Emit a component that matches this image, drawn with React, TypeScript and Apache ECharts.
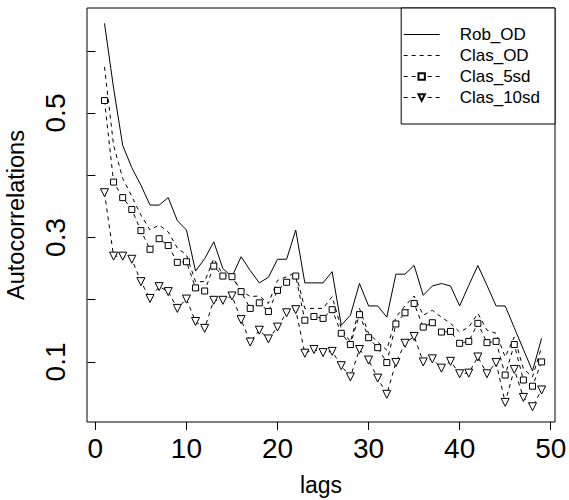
import React, { useEffect, useRef } from "react";
import * as echarts from "echarts";

const lags = [1,2,3,4,5,6,7,8,9,10,11,12,13,14,15,16,17,18,19,20,21,22,23,24,25,26,27,28,29,30,31,32,33,34,35,36,37,38,39,40,41,42,43,44,45,46,47,48,49];

const robOD = [0.644,0.54,0.448,0.412,0.384,0.352,0.352,0.364,0.327,0.312,
  0.246,0.266,0.293,0.250,0.237,0.269,0.247,0.227,0.236,0.265,
  0.265,0.312,0.227,0.227,0.227,0.245,0.159,0.175,0.226,0.190,
  0.190,0.172,0.241,0.241,0.255,0.207,0.222,0.226,0.222,0.190,
  0.223,0.255,0.223,0.190,0.190,0.155,0.120,0.0855,0.138];

const clasOD = [0.574,0.448,0.395,0.366,0.336,0.312,0.320,0.309,0.283,0.272,
  0.229,0.229,0.266,0.240,0.237,0.215,0.205,0.206,0.194,0.231,
  0.237,0.243,0.186,0.186,0.186,0.205,0.154,0.132,0.186,0.146,
  0.132,0.119,0.172,0.190,0.206,0.175,0.183,0.172,0.162,0.148,
  0.156,0.178,0.151,0.146,0.108,0.140,0.089,0.076,0.124];

const clas5sd = [0.520,0.389,0.364,0.345,0.311,0.281,0.298,0.287,0.260,0.261,
  0.219,0.214,0.254,0.238,0.237,0.213,0.186,0.195,0.181,0.215,
  0.228,0.238,0.167,0.173,0.170,0.184,0.146,0.128,0.176,0.139,
  0.123,0.099,0.161,0.179,0.194,0.156,0.163,0.148,0.149,0.130,
  0.133,0.162,0.131,0.133,0.079,0.128,0.071,0.061,0.100];

const clas10sd = [0.372,0.270,0.270,0.265,0.229,0.202,0.221,0.213,0.186,0.201,
  0.165,0.154,0.199,0.199,0.206,0.168,0.132,0.151,0.137,0.156,
  0.179,0.184,0.114,0.120,0.115,0.117,0.094,0.076,0.120,0.103,
  0.074,0.048,0.099,0.130,0.141,0.100,0.105,0.090,0.101,0.081,
  0.082,0.108,0.081,0.099,0.035,0.088,0.043,0.028,0.055];

const xTicks = [0, 10, 20, 30, 40, 50];
const yTicks = [0.1, 0.2, 0.3, 0.4, 0.5, 0.6];
const yLabels = [0.1, 0.3, 0.5];

const FONT = "'Liberation Sans', Arial, Helvetica, sans-serif";

export default function App() {
  const ref = useRef<HTMLDivElement>(null);
  useEffect(() => {
    document.body.style.margin = "0";
    const chart = echarts.init(ref.current!, null, { renderer: "svg" });
    const pairs = (vals: number[]) => lags.map((l, i) => [l, vals[i]]);
    const dashed = [4, 4];
    chart.setOption({
      animation: false,
      backgroundColor: "#fff",
      textStyle: { fontFamily: FONT, color: "#000" },
      grid: {
        left: 87, top: 8, width: 468, height: 414,
        containLabel: false, outerBoundsMode: "none",
        show: true, borderColor: "#000", borderWidth: 1, backgroundColor: "#fff",
      },
      legend: {
        orient: "vertical", right: 14, top: 8,
        padding: [18, 15, 18, 2],
        itemWidth: 36, itemHeight: 8, itemGap: 4,
        borderColor: "#000", borderWidth: 1, borderRadius: 0, backgroundColor: "#fff",
        lineStyle: { width: 1 },
        textStyle: { fontSize: 17, color: "#000", fontFamily: FONT, padding: [0, 0, 0, 15] },
        data: [
          { name: "Rob_OD", itemStyle: { opacity: 0 } },
          { name: "Clas_OD", itemStyle: { opacity: 0 } },
          { name: "Clas_5sd" },
          { name: "Clas_10sd", symbolRotate: 180 },
        ],
      },
      xAxis: {
        type: "value", min: -0.92, max: 50.47,
        splitLine: { show: false },
        axisLine: { show: false },
        axisTick: { show: true, length: 8, customValues: xTicks, lineStyle: { color: "#000", width: 1 } },
        axisLabel: { customValues: xTicks, fontSize: 28, color: "#000", margin: 12, fontFamily: FONT },
        name: "lags", nameLocation: "middle", nameGap: 51,
        nameTextStyle: { fontSize: 23, color: "#000", fontFamily: FONT },
      },
      yAxis: {
        type: "value", min: 0.0035, max: 0.6687,
        splitLine: { show: false },
        axisLine: { show: false },
        axisTick: { show: true, length: 8, customValues: yTicks, lineStyle: { color: "#000", width: 1 } },
        axisLabel: {
          customValues: yLabels, rotate: 90, fontSize: 28, color: "#000", margin: 18, fontFamily: FONT,
          formatter: (v: number) => v.toFixed(1),
        },
        name: "Autocorrelations", nameLocation: "middle", nameGap: 59,
        nameTextStyle: { fontSize: 23.5, color: "#000", fontFamily: FONT },
      },
      series: [
        {
          name: "Rob_OD", type: "line", data: pairs(robOD), symbol: "none",
          lineStyle: { color: "#000", width: 1, type: "solid" }, itemStyle: { color: "#000" },
        },
        {
          name: "Clas_OD", type: "line", data: pairs(clasOD), symbol: "none",
          lineStyle: { color: "#000", width: 1, type: dashed }, itemStyle: { color: "#000" },
        },
        {
          name: "Clas_5sd", type: "line", data: pairs(clas5sd), symbol: "rect", symbolSize: 6,
          lineStyle: { color: "#000", width: 1, type: dashed },
          itemStyle: { color: "#fff", borderColor: "#000", borderWidth: 1 },
        },
        {
          name: "Clas_10sd", type: "line", data: pairs(clas10sd), symbol: "triangle", symbolSize: 8, symbolRotate: 180,
          lineStyle: { color: "#000", width: 1, type: dashed },
          itemStyle: { color: "#fff", borderColor: "#000", borderWidth: 1 },
        },
      ],
    });
    return () => chart.dispose();
  }, []);
  return <div ref={ref} style={{ width: 569, height: 500 }} />;
}
